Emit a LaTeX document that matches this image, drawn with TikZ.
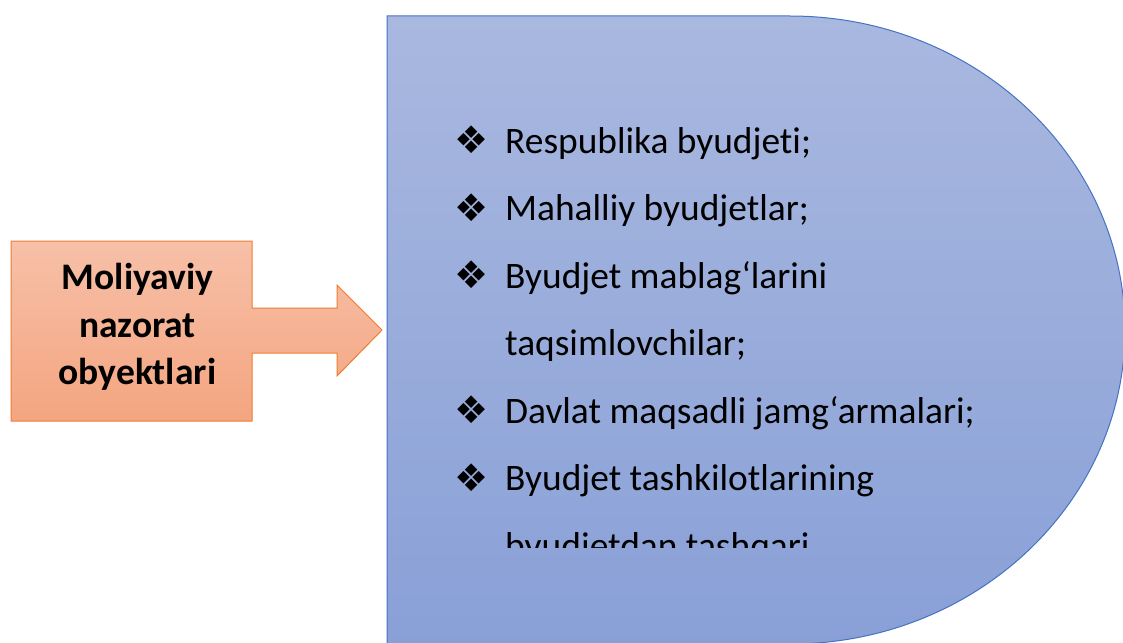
\documentclass[tikz,border=0pt]{standalone}
\usepackage{fontspec}
\setmainfont{Carlito}[Ligatures=NoCommon]
\newfontfamily\symfont{DejaVu Sans}
\usetikzlibrary{positioning}

\definecolor{blueTop}{RGB}{169,184,223}
\definecolor{blueBot}{RGB}{137,160,215}
\definecolor{blueLine}{RGB}{68,114,196}
\definecolor{orangeTop}{RGB}{247,192,168}
\definecolor{orangeBot}{RGB}{244,165,128}
\definecolor{orangeLine}{RGB}{237,125,49}

\tikzset{
    item/.style={anchor=base west, inner sep=0pt, font=\fontsize{37.4}{37.4}\selectfont},
    bul/.style={anchor=center, inner sep=0pt, font=\symfont\fontsize{38}{38}\selectfont},
}

\begin{document}
\begin{tikzpicture}[x=1pt, y=-1pt]
    \useasboundingbox (0,0) rectangle (1123,642);

    % delay shape with the list
    \path [draw=blueLine, line width=1pt, top color=blueTop, bottom color=blueBot]
        (387,16) -- (790,16) .. controls (975,16) and (1125,157) .. (1125,330)
        .. controls (1125,503) and (975,644) .. (790,644) -- (387,644) -- cycle;

    \node (b1) [bul] at (472,140) {❖};
    \node (r1) [item] at (505,153) {Respublika byudjeti;};
    \node (b2) [bul] at (472,208) {❖};
    \node (r2) [item] at (505,220.5) {Mahalliy byudjetlar;};
    \node (b3) [bul] at (472,275) {❖};
    \node (r3) [item] at (505,288) {Byudjet mablag‘larini};
    \node (r4) [item] at (505,355.5) {taqsimlovchilar;};
    \node (b5) [bul] at (472,410) {❖};
    \node (r5) [item] at (505,423) {Davlat maqsadli jamg‘armalari;};
    \node (b6) [bul] at (472,478) {❖};
    \node (r6) [item] at (505,490.5) {Byudjet tashkilotlarining};
    \begin{scope}
        \clip (387,16) rectangle (1123,547);
        \node (r7) [item] at (505,558) {byudjetdan tashqari};
    \end{scope}

    % right arrow callout
    \path [draw=orangeLine, line width=1pt, top color=orangeTop, bottom color=orangeBot]
        (11,241) -- (252,241) -- (252,308) -- (337,308) -- (337,285) -- (382,330)
        -- (337,376) -- (337,353) -- (252,353) -- (252,421) -- (11,421) -- cycle;
    \node (lbl) [align=center, inner sep=0pt, font=\bfseries\fontsize{37.5}{47.5}\selectfont]
        at (137.5,327) {Moliyaviy\\nazorat\\obyektlari};
\end{tikzpicture}
\end{document}
